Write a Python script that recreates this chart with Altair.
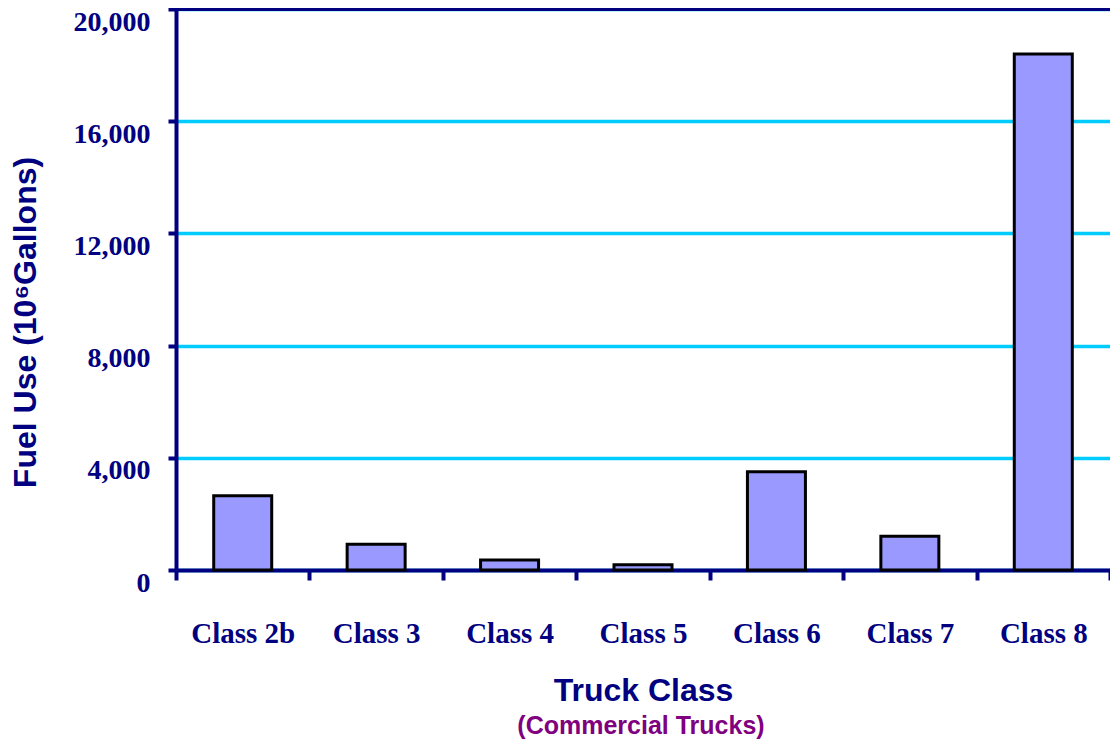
import altair as alt
import pandas as pd

classes = ["Class 2b", "Class 3", "Class 4", "Class 5", "Class 6", "Class 7", "Class 8"]
fuel_use = [2650, 920, 360, 190, 3500, 1200, 18400]
y_ticks = [0, 4000, 8000, 12000, 16000, 20000]
y_title = "Fuel Use (10\u2076Gallons)"
x_title = "Truck Class"
subtitle = ["(Commercial Trucks)"]

NAVY = "#000080"
W, H = 934, 561

df = pd.DataFrame({"cls": classes, "fuel": fuel_use})

x_enc = alt.X(
    "cls:N", sort=classes,
    scale=alt.Scale(paddingInner=0, paddingOuter=0),
    axis=alt.Axis(
        title=x_title, tickBand="extent", labelAngle=0,
        labelFont="Liberation Serif", labelFontWeight="bold", labelFontSize=29,
        labelColor=NAVY, labelBaseline="alphabetic", labelPadding=62,
        tickSize=10, tickWidth=4, tickColor=NAVY,
        domainColor=NAVY, domainWidth=4, grid=False,
        titleFont="Liberation Sans", titleFontWeight="bold", titleFontSize=32,
        titleColor=NAVY, titleBaseline="alphabetic", titleY=130,
    ),
)
y_enc = alt.Y(
    "fuel:Q",
    scale=alt.Scale(domain=[0, 20000], nice=False),
    axis=alt.Axis(
        title=y_title, values=y_ticks, format=",d",
        labelFont="Liberation Serif", labelFontWeight="bold", labelFontSize=28,
        labelColor=NAVY, labelPadding=18, labelOffset=13,
        tickSize=8, tickWidth=4, tickColor=NAVY,
        domainColor=NAVY, domainWidth=4,
        grid=True, gridColor="#00CCFF", gridWidth=3.5,
        titleFont="Liberation Sans", titleFontWeight="bold", titleFontSize=32,
        titleColor=NAVY, titleAngle=270, titleAlign="center",
        titleBaseline="alphabetic", titleX=-141, titleY=313,
    ),
)

bars = alt.Chart(df).mark_bar(
    size=58, color="#9999FF", stroke="black", strokeWidth=3
).encode(x=x_enc, y=y_enc)

top = alt.Chart(pd.DataFrame({"v": [20000]})).mark_rule(
    color=NAVY, strokeWidth=4
).encode(y=alt.Y("v:Q"))

sub = alt.Chart(pd.DataFrame({"t": subtitle})).mark_text(
    font="Liberation Sans", fontWeight="bold", fontSize=25, color="#800080",
    baseline="alphabetic", align="center"
).encode(text="t:N", x=alt.value(465), y=alt.value(725))

chart = alt.layer(bars, top, sub).properties(
    width=W, height=H,
    autosize=alt.AutoSizeParams(type="none"),
    padding={"left": 168, "top": 1, "right": 0, "bottom": 172},
).configure_view(stroke=None)

chart.save("out.html", embed_options={"renderer": "svg", "actions": False})
